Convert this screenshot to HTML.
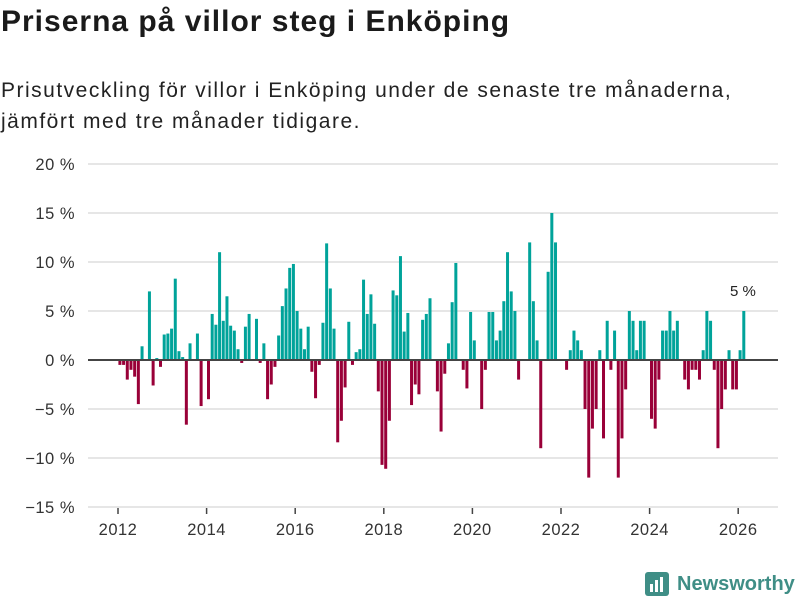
<!DOCTYPE html>
<html><head><meta charset="utf-8"><style>
body{margin:0;width:800px;height:600px;background:#fff;font-family:"Liberation Sans",sans-serif;color:#222;overflow:hidden;position:relative}
h1{position:absolute;left:1px;top:5px;margin:0;font-size:30px;letter-spacing:1px;font-weight:bold;color:#1a1a1a}
p{position:absolute;left:1px;top:75px;margin:0;font-size:21px;letter-spacing:1.5px;line-height:31px;color:#222}
svg{position:absolute;left:0;top:0}
</style></head><body>
<h1>Priserna på villor steg i Enköping</h1>
<p>Prisutveckling för villor i Enköping under de senaste tre månaderna,<br>jämfört med tre månader tidigare.</p>
<svg width="800" height="600">
<g id="grid"></g><g id="bars"></g><g id="axes"></g>
<g>
<rect x="645" y="572" width="24" height="24" rx="3" fill="#3f8e86"/>
<rect x="650" y="584" width="3" height="8" fill="#fff"/><rect x="655" y="580" width="3" height="12" fill="#fff"/><rect x="660" y="577" width="3" height="15" fill="#fff"/>
<text x="677" y="590" font-size="20" font-weight="bold" fill="#3f8e86" font-family="Liberation Sans, sans-serif">Newsworthy</text>
</g>
</svg>
<script>
const startYear = 2012;
const values = [-0.5,-0.5,-2,-1,-1.7,-4.5,1.4,0,7,-2.6,0.2,-0.7,2.6,2.7,3.2,8.3,0.9,0.3,-6.6,1.7,0,2.7,-4.7,0,-4,4.7,3.6,11,4,6.5,3.5,3,1.1,-0.3,3.4,4.7,0.1,4.2,-0.3,1.7,-4,-2.5,
-0.7,2.5,5.5,7.3,9.4,9.8,5,3.2,1.1,3.4,-1.2,-3.9,-0.5,3.8,11.9,7.3,3.2,-8.4,-6.2,-2.8,3.9,-0.5,0.8,1.1,8.2,4.7,6.7,3.7,-3.2,-10.7,-11.1,-6.2,7.1,6.6,10.6,2.9,4.8,-4.6,-2.5,-3.5,4.1,4.7,6.3,-0.1,-3.2,-7.3,-1.4,1.7,5.9,9.9,0,-1,-2.9,4.9,2,0,-5,-1,4.9,4.9,2,3,6,11,7,5,-2,0,0,12,6,2,-9,0,9,15,12,0,0,-1,1,3,2,1,-5,-12,-7,-5,1,-8,4,-1,3,-12,-8,-3,5,4,1,4,4,0,-6,-7,-2,3,3,5,3,4,0,-2,-3,-1,-1,-2,1,5,4,-1,-9,-5,-3,1,-3,-3,1,5];
const yTicks = [20,15,10,5,0,-5,-10,-15];
const xTicks = [2012,2014,2016,2018,2020,2022,2024,2026];
const NS="http://www.w3.org/2000/svg";
const y = v => 360 - v*9.8;
const xYear = yr => 118 + (yr-2012)*44.3;
const xMonth = m => 118 + m*44.3/12;
function mk(t,a,parent){const e=document.createElementNS(NS,t);for(const k in a)e.setAttribute(k,a[k]);document.getElementById(parent).appendChild(e);return e;}
yTicks.forEach(v=>{
  const l=mk('line',{x1:88,x2:778,y1:y(v),y2:y(v),stroke:v===0?'#444':'#ddd','stroke-width':v===0?2:1.5},v===0?'axes':'grid');
  
  
  const t=mk('text',{x:75,y:y(v)+6,'text-anchor':'end','font-size':16.5,'letter-spacing':0.5,fill:'#333'},'axes');
  t.textContent=(v<0?'−':'')+Math.abs(v)+' %';
  
  
});
xTicks.forEach(yr=>{
  const x=xYear(yr);
  const l=mk('line',{x1:x,x2:x,y1:508,y2:514,stroke:'#444','stroke-width':1.5},'axes');
  
  
  const t=mk('text',{x:x,y:535,'text-anchor':'middle','font-size':16.5,'letter-spacing':0.5,fill:'#333'},'axes');
  t.textContent=yr;
  
  
});
values.forEach((v,i)=>{
  if(v===0)return;
  const x=xMonth(i)+0.4;
  const r=mk('rect',{x:x,width:3,y:Math.min(y(v),y(0)),height:Math.abs(y(v)-y(0)),fill:v>0?'#00a39a':'#990038'},'bars');
  
  
});
const li=values.length-1;
const lab=mk('text',{x:xMonth(li)+1,y:y(values[li])-15,'text-anchor':'middle','font-size':15,fill:'#222'},'axes');
lab.textContent=values[li]+' %';


</script>
</body></html>
